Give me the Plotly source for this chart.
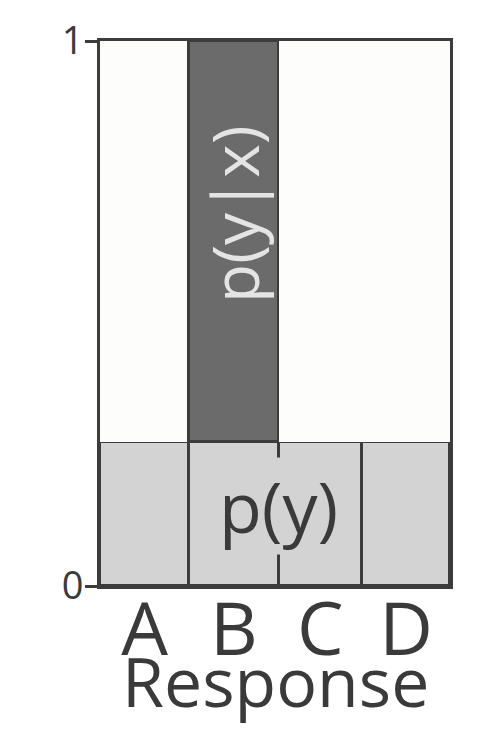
import numpy as np
import plotly.graph_objects as go

# ---- data ----
categories = ["A", "B", "C", "D"]
column_share = [0.255, 0.255, 0.239, 0.251]     # relative column widths
p_y = [0.265, 0.265, 0.265, 0.265]              # bottom band p(y)
highlight = [False, True, False, False]         # B carries p(y|x)
y_ticks = [0, 1]
y_ticktext = ["0", "1"]

LINE = "#3c3c3c"
TEXT = "#3a3a3a"
BAND = "#d3d3d3"
DARK = "#6b6b6b"
BG = "#fdfdfb"

widths = np.array(column_share)
edges = np.concatenate([[0], np.cumsum(widths)])
centers = (edges[:-1] + edges[1:]) / 2
total = edges[-1]
py = np.array(p_y)
upper_color = [DARK if h else BG for h in highlight]
upper_line = [3 if h else 0 for h in highlight]

fig = go.Figure()
fig.add_trace(go.Bar(
    x=centers, y=py, base=0, width=widths,
    marker=dict(color=BAND, line=dict(color=LINE, width=3)),
    hoverinfo="skip", showlegend=False))
fig.add_trace(go.Bar(
    x=centers, y=1 - py, base=py, width=widths,
    marker=dict(color=upper_color, line=dict(color=LINE, width=upper_line)),
    hoverinfo="skip", showlegend=False))

# labels
fig.add_annotation(x=edges[2], y=py[0] / 2, text="p(y)", showarrow=False,
                   font=dict(family="Open Sans", size=70, color=TEXT),
                   bgcolor=BAND, borderpad=0, yshift=8)
fig.add_annotation(x=centers[1], y=(py[1] + 1) / 2 + 0.05, text="p(y|x)", showarrow=False,
                   textangle=-90,
                   font=dict(family="Open Sans", size=64, color="#e4e4e4"))
fig.add_annotation(x=0.5, xref="paper", y=-0.174, yref="paper", yanchor="middle",
                   text="Response", showarrow=False,
                   font=dict(family="Open Sans", size=68, color=TEXT))

fig.update_layout(
    width=488, height=744,
    margin=dict(l=100, r=38, t=41, b=158),
    paper_bgcolor="white", plot_bgcolor=BG,
    barmode="overlay", bargap=0,
    font=dict(family="Open Sans", color=TEXT),
    xaxis=dict(range=[0, total], tickvals=centers, ticktext=categories,
               tickfont=dict(size=74, color=TEXT), ticks="", showgrid=False,
               zeroline=False, showline=True, mirror=True, linecolor=LINE, linewidth=3,
               ticklabelstandoff=-23, automargin=False),
    yaxis=dict(range=[0, 1], tickvals=y_ticks, ticktext=y_ticktext,
               tickfont=dict(size=38, color=TEXT), ticks="outside", ticklen=12,
               tickwidth=3, tickcolor=LINE, showgrid=False, zeroline=False,
               showline=True, mirror=True, linecolor=LINE, linewidth=3,
               ticklabelstandoff=-6, automargin=False),
)

fig.write_html("out.html")
